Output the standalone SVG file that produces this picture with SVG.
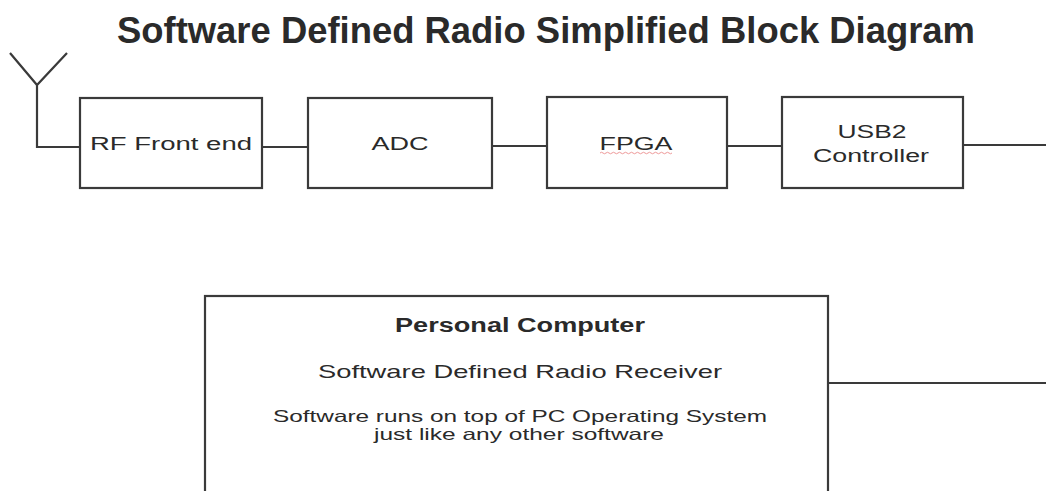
<svg xmlns="http://www.w3.org/2000/svg" width="1046" height="491" viewBox="0 0 1046 491">
<style>
.box{fill:#fff;stroke:#3a3a3a;stroke-width:2.2}
.ln{fill:none;stroke:#3a3a3a;stroke-width:2.2}
text{font-family:"Liberation Sans",Arial,sans-serif;fill:#2a2a2a;text-anchor:middle}
.t{font-size:18px}
</style>
<rect width="1046" height="491" fill="#fff"/>
<text x="546" y="43" font-size="36" font-weight="bold" fill="#111" textLength="858" lengthAdjust="spacingAndGlyphs">Software Defined Radio Simplified Block Diagram</text>
<g id="connectors">
<path class="ln" d="M10 53 L37 85 L67 53 M37 85 L37 147 L80 147"/>
<path class="ln" d="M262 147 L308 147"/>
<path class="ln" d="M492 146 L547 146"/>
<path class="ln" d="M727 146 L782 146"/>
<path class="ln" d="M963 145 L1046 145"/>
<path class="ln" d="M828 383 L1046 383"/>
</g>
<g id="rf"><rect class="box" x="80" y="98" width="182" height="90"/><text class="t" x="171" y="150" textLength="162" lengthAdjust="spacingAndGlyphs">RF Front end</text></g>
<g id="adc"><rect class="box" x="308" y="98" width="184" height="90"/><text class="t" x="400" y="150" textLength="57" lengthAdjust="spacingAndGlyphs">ADC</text></g>
<g id="fpga"><rect class="box" x="547" y="97" width="180" height="91"/><text class="t" x="636" y="150" textLength="73" lengthAdjust="spacingAndGlyphs">FPGA</text>
<path d="M600 153 q1.5 -1.5 3 0 t3 0 t3 0 t3 0 t3 0 t3 0 t3 0 t3 0 t3 0 t3 0 t3 0 t3 0 t3 0 t3 0 t3 0 t3 0 t3 0 t3 0 t3 0 t3 0 t3 0 t3 0 t3 0 t3 0" fill="none" stroke="#e99" stroke-width="1"/></g>
<g id="usb"><rect class="box" x="782" y="97" width="181" height="91"/><text class="t" x="872" y="138" textLength="69" lengthAdjust="spacingAndGlyphs">USB2</text><text class="t" x="871" y="162" textLength="116" lengthAdjust="spacingAndGlyphs">Controller</text></g>
<g id="pc"><rect class="box" x="205" y="296" width="623" height="210"/>
<text x="520" y="332" font-size="19.5" font-weight="bold" fill="#111" textLength="250" lengthAdjust="spacingAndGlyphs">Personal Computer</text>
<text x="520" y="378" font-size="18.5" textLength="404" lengthAdjust="spacingAndGlyphs">Software Defined Radio Receiver</text>
<text x="520" y="422" font-size="16.5" textLength="494" lengthAdjust="spacingAndGlyphs">Software runs on top of PC Operating System</text>
<text x="519" y="440" font-size="16.5" textLength="290" lengthAdjust="spacingAndGlyphs">just like any other software</text></g>
</svg>
